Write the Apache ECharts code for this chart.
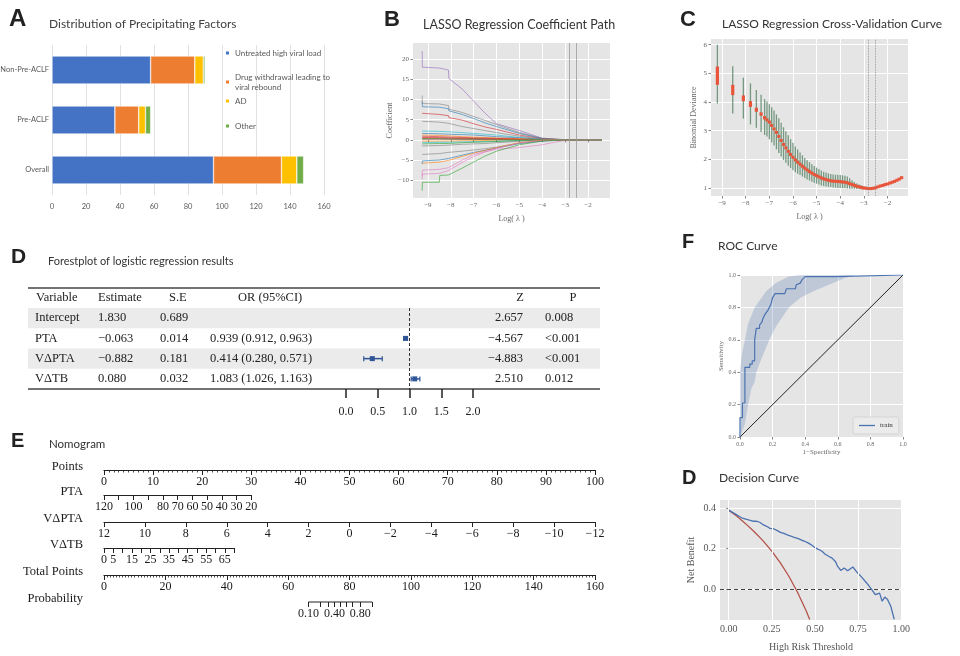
<!DOCTYPE html>
<html>
<head>
<meta charset="utf-8">
<title>Precipitating factors and logistic model</title>
<script src="https://cdn.jsdelivr.net/npm/echarts@6.0.0/dist/echarts.min.js"></script>
<style>
  html, body { margin: 0; padding: 0; background: #fff; }
  #chart { width: 960px; height: 656px; }
</style>
</head>
<body>
<div id="chart"></div>
<script>
// ---------- A: precipitating factors ----------
const factorGroups = ['Non-Pre-ACLF', 'Pre-ACLF', 'Overall'];
const factorNames = ['Untreated high viral load', 'Drug withdrawal leading to viral rebound', 'AD', 'Other'];
const untreatedViralLoad = [58, 37, 95];
const drugWithdrawal = [26, 14, 40];
const adCount = [5, 4, 9];
const otherCount = [1, 3, 4];
const factorTicks = [0, 20, 40, 60, 80, 100, 120, 140, 160];

// ---------- B: LASSO coefficient path ----------
const pathLogLambda = [-9.25, -9.24, -8.5, -8.48, -8.1, -8.08, -7.5, -7, -6.5, -6, -5, -4, -3, -1.4];
const coefPaths = [
  [22, 18, 17.8, 17.5, 17.3, 15.2, 12.6, 9.6, 6.6, 4.0, 2.3, 0.4, 0.03, 0],
  [11, 9.0, 8.9, 8.6, 8.5, 7.6, 6.8, 5.8, 4.8, 3.8, 1.8, 0.4, 0.03, 0],
  [9.5, 8.2, 8.1, 7.8, 7.7, 7.2, 6.3, 5.3, 4.2, 3.3, 1.6, 0.3, 0.02, 0],
  [6.6, 6.4, 6.3, 6.1, 6.0, 5.5, 4.9, 4.0, 3.2, 2.6, 1.2, 0.25, 0.02, 0],
  [4.6, 4.5, 4.4, 4.2, 4.1, 3.8, 3.3, 2.8, 2.3, 1.8, 0.9, 0.2, 0.01, 0],
  [2.2, 2.1, 2.1, 2.0, 2.0, 1.9, 1.8, 1.6, 1.4, 1.2, 0.6, 0.1, 0, 0],
  [1.6, 1.5, 1.5, 1.5, 1.4, 1.4, 1.3, 1.2, 1.0, 0.8, 0.5, 0.1, 0, 0],
  [1.2, 1.1, 1.1, 1.0, 1.0, 0.9, 0.8, 0.7, 0.6, 0.5, 0.3, 0.05, 0, 0],
  [0.9, 0.8, 0.8, 0.8, 0.7, 0.7, 0.6, 0.5, 0.45, 0.35, 0.2, 0.04, 0, 0],
  [0.6, 0.55, 0.55, 0.5, 0.5, 0.45, 0.4, 0.35, 0.3, 0.25, 0.12, 0.02, 0, 0],
  [0.4, 0.4, 0.4, 0.38, 0.36, 0.34, 0.3, 0.26, 0.22, 0.18, 0.1, 0.02, 0, 0],
  [0.3, 0.3, 0.3, 0.3, 0.25, 0.25, 0.2, 0.2, 0.15, 0.1, 0.05, 0, 0, 0],
  [0.15, 0.15, 0.15, 0.15, 0.12, 0.12, 0.1, 0.1, 0.08, 0.06, 0.03, 0, 0, 0],
  [-0.3, -0.3, -0.3, -0.3, -0.3, -0.25, -0.2, -0.2, -0.15, -0.1, -0.05, 0, 0, 0],
  [-0.7, -0.7, -0.6, -0.6, -0.6, -0.55, -0.5, -0.45, -0.4, -0.3, -0.15, 0, 0, 0],
  [-1.0, -1.0, -0.9, -0.9, -0.9, -0.8, -0.7, -0.6, -0.5, -0.4, -0.2, -0.02, 0, 0],
  [-1.5, -1.4, -1.4, -1.3, -1.3, -1.2, -1.1, -1.0, -0.9, -0.7, -0.35, -0.05, 0, 0],
  [-3.6, -3.5, -3.4, -3.2, -3.1, -3.0, -2.8, -2.5, -2.2, -1.8, -0.8, -0.2, 0, 0],
  [-6.0, -5.2, -5.0, -4.8, -4.6, -4.5, -3.8, -3.1, -2.6, -2.0, -0.9, -0.3, 0, 0],
  [-5.8, -5.7, -5.5, -5.4, -5.1, -5.0, -4.1, -3.3, -2.6, -1.9, -0.7, -0.1, 0, 0],
  [-9.0, -7.5, -7.3, -7.2, -6.9, -6.6, -5.0, -3.6, -2.9, -2.3, -1.9, -1.2, -0.1, 0],
  [-9.8, -8.5, -8.3, -8.2, -7.6, -7.2, -5.6, -4.1, -3.0, -2.1, -0.8, -0.1, 0, 0],
  [-12.6, -10.5, -10.5, -8.8, -8.7, -8.5, -7.0, -5.5, -4.0, -2.8, -1.2, -0.3, 0, 0]
];
const lambdaChoices = [-2.8, -2.5];
const logLambdaTicks = [-9, -8, -7, -6, -5, -4, -3, -2];
const coefTicks = [-10, -5, 0, 5, 10, 15, 20];

// ---------- C: cross-validation curve ----------
const cvLogLambda = [-9.2, -8.55, -8.1, -7.8, -7.55, -7.35, -7.2, -7.1, -7.0, -6.9, -6.8, -6.7, -6.6, -6.5, -6.4, -6.3,
  -6.2, -6.1, -6.0, -5.9, -5.8, -5.7, -5.6, -5.5, -5.4, -5.3, -5.2, -5.1, -5.0, -4.9, -4.8, -4.7, -4.6, -4.5, -4.4,
  -4.3, -4.2, -4.1, -4.0, -3.9, -3.8, -3.7, -3.6, -3.5, -3.4, -3.3, -3.2, -3.1, -3.0, -2.9, -2.8, -2.7, -2.6, -2.5,
  -2.4, -2.3, -2.2, -2.1, -2.0, -1.9, -1.8, -1.7, -1.6, -1.5, -1.4];
const cvMean = [4.92, 4.42, 4.13, 3.93, 3.73, 3.58, 3.45, 3.38, 3.3, 3.18, 3.06, 2.94, 2.8, 2.66, 2.52, 2.4,
  2.28, 2.17, 2.07, 1.98, 1.9, 1.83, 1.76, 1.69, 1.63, 1.57, 1.52, 1.47, 1.43, 1.39, 1.35, 1.32, 1.29, 1.27, 1.25,
  1.24, 1.23, 1.23, 1.22, 1.21, 1.2, 1.18, 1.15, 1.12, 1.09, 1.06, 1.04, 1.02, 1.0, 0.99, 0.98, 0.98, 0.99, 1.01,
  1.04, 1.07, 1.09, 1.12, 1.14, 1.17, 1.2, 1.23, 1.27, 1.31, 1.36];
const cvLower = [3.95, 3.6, 3.42, 3.22, 3.1, 2.95, 2.85, 2.8, 2.7, 2.6, 2.48, 2.35, 2.22, 2.1, 1.98, 1.88,
  1.78, 1.7, 1.62, 1.55, 1.5, 1.45, 1.4, 1.35, 1.3, 1.26, 1.22, 1.18, 1.15, 1.12, 1.09, 1.07, 1.05, 1.04, 1.03,
  1.02, 1.01, 1.0, 1.0, 0.99, 0.99, 0.98, 0.97, 0.97, 0.97, 0.96, 0.96, 0.95, 0.95, 0.95, 0.95, 0.96, 0.98, 1.0,
  1.03, 1.06, 1.08, 1.11, 1.13, 1.16, 1.19, 1.22, 1.26, 1.3, 1.35];
const cvUpper = [6.0, 5.25, 4.85, 4.65, 4.42, 4.25, 4.1, 4.02, 3.92, 3.82, 3.7, 3.57, 3.43, 3.28, 3.12, 2.98,
  2.84, 2.7, 2.58, 2.45, 2.34, 2.24, 2.14, 2.05, 1.97, 1.9, 1.83, 1.77, 1.71, 1.66, 1.61, 1.57, 1.54, 1.51, 1.49,
  1.47, 1.46, 1.46, 1.45, 1.44, 1.43, 1.4, 1.34, 1.27, 1.21, 1.16, 1.12, 1.09, 1.06, 1.04, 1.02, 1.0, 1.01, 1.03,
  1.05, 1.08, 1.1, 1.13, 1.15, 1.18, 1.21, 1.24, 1.28, 1.32, 1.37];
const cvMarkHalf = [0.32, 0.18, 0.1, 0.1, 0.07, 0.06, 0.06];
const devianceTicks = [1, 2, 3, 4, 5, 6];

// ---------- D: forest plot ----------
const forestVars = ['Intercept', 'PTA', 'VΔPTA', 'VΔTB'];
const forestEstimate = [1.830, -0.063, -0.882, 0.080];
const forestSE = [0.689, 0.014, 0.181, 0.032];
const forestOR = [null, 0.939, 0.414, 1.083];
const forestLow = [null, 0.912, 0.280, 1.026];
const forestHigh = [null, 0.963, 0.571, 1.163];
const forestZ = [2.657, -4.567, -4.883, 2.510];
const forestP = ['0.008', '<0.001', '<0.001', '0.012'];
const forestTicks = [0, 0.5, 1, 1.5, 2];

// ---------- E: nomogram ----------
const nomoRows = ['Points', 'PTA', 'VΔPTA', 'VΔTB', 'Total Points', 'Probability'];
const ptaTicks = [120, 110, 100, 90, 80, 70, 60, 50, 40, 30, 20];
const ptaLabels = [120, 100, 80, 70, 60, 50, 40, 30, 20];
const ptaMaxPoints = 30;
const vptaTicks = [12, 10, 8, 6, 4, 2, 0, -2, -4, -6, -8, -10, -12];
const tbTicks = [0, 5, 10, 15, 20, 25, 30, 35, 40, 45, 50, 55, 60, 65, 70];
const tbLabels = [0, 5, 15, 25, 35, 45, 55, 65];
const tbMaxPoints = 26.5;
const probValues = [0.1, 0.2, 0.3, 0.4, 0.5, 0.6, 0.7, 0.8, 0.9];
const probTotalPoints = [66.6, 70.5, 73.0, 75.1, 77.0, 78.9, 81.0, 83.5, 87.4];
const probLabelValues = [0.1, 0.4, 0.8];

// ---------- F: ROC ----------
const rocFpr = [0, 0, 0.015, 0.015, 0.03, 0.03, 0.06, 0.06, 0.075, 0.075, 0.09, 0.09, 0.1, 0.1, 0.12, 0.12, 0.135,
  0.14, 0.155, 0.17, 0.19, 0.2, 0.215, 0.275, 0.285, 0.34, 0.345, 0.37, 0.38, 0.4, 0.585, 0.585, 1.0];
const rocTpr = [0, 0.12, 0.12, 0.21, 0.21, 0.43, 0.43, 0.45, 0.45, 0.47, 0.47, 0.6, 0.6, 0.67, 0.67, 0.69, 0.71,
  0.73, 0.76, 0.78, 0.82, 0.86, 0.885, 0.885, 0.915, 0.915, 0.94, 0.95, 0.97, 0.99, 0.99, 1.0, 1.0];
const rocUpperBand = [[0, 0], [0, 0.4], [0.01, 0.5], [0.03, 0.6], [0.05, 0.7], [0.09, 0.8], [0.16, 0.9],
  [0.22, 0.95], [0.3, 0.99], [0.37, 1.0]];
const rocLowerBand = [[0, 0], [0.03, 0.08], [0.05, 0.2], [0.07, 0.3], [0.09, 0.34], [0.1, 0.4], [0.13, 0.48],
  [0.18, 0.6], [0.22, 0.68], [0.3, 0.8], [0.37, 0.86], [0.45, 0.9], [0.57, 0.95], [0.64, 0.98], [0.71, 1.0]];
const rocTicks = [0, 0.2, 0.4, 0.6, 0.8, 1.0];

// ---------- D: decision curve ----------
const dcaThreshold = [0, 0.02, 0.04, 0.06, 0.08, 0.1, 0.12, 0.14, 0.16, 0.18, 0.2, 0.22, 0.24, 0.26, 0.28, 0.3,
  0.32, 0.34, 0.36, 0.38, 0.4, 0.42, 0.44, 0.46, 0.48, 0.5, 0.52, 0.54, 0.56, 0.58, 0.6, 0.62, 0.63, 0.65, 0.67,
  0.69, 0.7, 0.72, 0.74, 0.77, 0.8, 0.83, 0.85, 0.86, 0.875, 0.89, 0.905, 0.92, 0.94, 0.96];
const dcaModel = [0.39, 0.38, 0.37, 0.36, 0.35, 0.345, 0.34, 0.335, 0.336, 0.33, 0.318, 0.31, 0.30, 0.298, 0.29,
  0.28, 0.275, 0.268, 0.262, 0.255, 0.25, 0.243, 0.236, 0.228, 0.218, 0.205, 0.196, 0.188, 0.172, 0.162, 0.153,
  0.135, 0.115, 0.092, 0.104, 0.09, 0.082, 0.109, 0.087, 0.06, 0.03, -0.003, -0.028, -0.036, -0.02, -0.06, -0.04,
  -0.05, -0.085, -0.15];
const dcaAllThreshold = [0, 0.05, 0.1, 0.15, 0.2, 0.25, 0.3, 0.35, 0.4, 0.45, 0.47];
const dcaTreatAll = [0.39, 0.358, 0.322, 0.282, 0.238, 0.187, 0.129, 0.062, -0.017, -0.109, -0.151];
const dcaXTicks = [0, 0.25, 0.5, 0.75, 1.0];
const dcaYTicks = [0, 0.2, 0.4];

// ---------- styling ----------
const serif = 'Liberation Serif';
const sans = 'Lato';
const ggBg = '#e5e5e5';
const factorColors = ['#4472c4', '#ed7d31', '#ffc000', '#70ad47'];
const pathColors = ['#9467bd', '#7f7f7f', '#1f77b4', '#d62728', '#7f7f7f', '#17becf', '#1f77b4', '#ff7f0e',
  '#d62728', '#d62728', '#d62728', '#2ca02c', '#8c564b', '#ff7f0e', '#17becf', '#2ca02c', '#7f7f7f', '#7f7f7f',
  '#1f77b4', '#ff7f0e', '#e377c2', '#e377c2', '#2ca02c'];
const uMinus = v => String(v).replace('-', '−');

const forestTop = 308, forestHeight = 81, forestLeft = 28, forestRight = 600;
const forestRowH = forestHeight / forestVars.length;
const nomoLeft = 104, nomoPxPerPoint = 4.91, nomoTotalMax = 160;
const nomoRowY = [470, 495, 522, 548, 575, 602];

function gridBox(left, top, width, height, gg) {
  const g = { left, top, width, height, containLabel: false, outerBoundsMode: 'none' };
  if (gg) { g.show = true; g.backgroundColor = ggBg; g.borderWidth = 0; }
  return g;
}

const grids = [
  gridBox(52, 45, 272, 150),           // 0 A
  gridBox(413, 43, 197, 155, true),    // 1 B
  gridBox(711, 39, 197, 157, true),    // 2 C
  gridBox(346, forestTop, 127, forestHeight) // 3 forest
];
const nomoWidths = [100 * nomoPxPerPoint, ptaMaxPoints * nomoPxPerPoint, 100 * nomoPxPerPoint,
  tbMaxPoints * nomoPxPerPoint, 100 * nomoPxPerPoint, 100 * nomoPxPerPoint];
nomoRowY.forEach((y, i) => grids.push(gridBox(nomoLeft, y - 1, nomoWidths[i], 1))); // 4..9
grids.push(gridBox(740, 275, 163, 162, true));   // 10 ROC
grids.push(gridBox(720, 500, 182, 120, true));   // 11 DCA

function ggAxis(gridIndex, min, max, ticks, fontSize, fmt, extra) {
  return Object.assign({
    type: 'value', gridIndex, min, max,
    axisLine: { show: false },
    axisTick: { show: true, length: 2.5, lineStyle: { color: '#666', width: 0.8 }, customValues: ticks },
    axisLabel: { customValues: ticks, fontSize, color: '#666', fontFamily: serif, margin: 4, formatter: fmt, hideOverlap: false },
    splitLine: { show: true, lineStyle: { color: '#ffffff', width: 1 } },
    nameLocation: 'middle',
    nameTextStyle: { fontFamily: serif, color: '#666' }
  }, extra || {});
}

function nomoAxis(gridIndex, extra, tickCustom, labelCustom, fmt) {
  const ax = {
    type: 'value', gridIndex, position: 'bottom',
    axisLine: { show: true, lineStyle: { color: '#222', width: 1.2 } },
    axisTick: { show: true, length: 5, lineStyle: { color: '#222', width: 1 } },
    axisLabel: { show: true, fontFamily: serif, fontSize: 12, color: '#1a1a1a', margin: 6, hideOverlap: false,
      showMinLabel: true, showMaxLabel: true },
    splitLine: { show: false }
  };
  if (tickCustom) ax.axisTick.customValues = tickCustom;
  if (labelCustom) ax.axisLabel.customValues = labelCustom;
  if (fmt) ax.axisLabel.formatter = fmt;
  return Object.assign(ax, extra);
}

const minorStyle = n => ({ show: true, splitNumber: n, length: 2.5, lineStyle: { color: '#222', width: 0.8 } });

const xAxes = [
  { type: 'value', gridIndex: 0, min: 0, max: 160, interval: 20,
    axisLine: { show: false }, axisTick: { show: false },
    axisLabel: { fontSize: 7.5, color: '#595959', fontFamily: sans, margin: 8 },
    splitLine: { show: true, lineStyle: { color: '#d9d9d9', width: 0.8 } } },
  ggAxis(1, -9.65, -1.04, logLambdaTicks, 7, uMinus, { splitNumber: 8, name: 'Log( λ )', nameGap: 17, nameTextStyle: { fontFamily: serif, color: '#666', fontSize: 8 } }),
  ggAxis(2, -9.47, -1.13, logLambdaTicks, 7, uMinus, { splitNumber: 8, name: 'Log( λ )', nameGap: 17, nameTextStyle: { fontFamily: serif, color: '#666', fontSize: 8 } }),
  { type: 'value', gridIndex: 3, min: 0, max: 2, interval: 0.5,
    axisLine: { show: false },
    axisTick: { show: true, length: 9, lineStyle: { color: '#222', width: 1.5 } },
    axisLabel: { fontSize: 12, color: '#222', fontFamily: serif, margin: 17, formatter: v => v.toFixed(1) },
    splitLine: { show: false } },
  nomoAxis(4, { min: 0, max: 100, interval: 10, minorTick: minorStyle(10) }),
  nomoAxis(5, { min: 20, max: 120, inverse: true }, ptaTicks, ptaLabels),
  nomoAxis(6, { min: -12, max: 12, interval: 2, inverse: true }, vptaTicks, null, uMinus),
  nomoAxis(7, { min: 0, max: 70 }, tbTicks, tbLabels),
  nomoAxis(8, { min: 0, max: nomoTotalMax, interval: 20, minorTick: minorStyle(20) }),
  nomoAxis(9, { min: 0, max: nomoTotalMax, axisLine: { show: false } }, probTotalPoints,
    probLabelValues.map(p => probTotalPoints[probValues.indexOf(p)]),
    v => probValues[probTotalPoints.indexOf(v)].toFixed(2)),
  ggAxis(10, 0, 1, rocTicks, 6, v => v.toFixed(1), { interval: 0.2, name: '1−Specificity', nameGap: 12, nameTextStyle: { fontFamily: serif, color: '#666', fontSize: 7 } }),
  ggAxis(11, -0.05, 1.005, dcaXTicks, 10, v => v.toFixed(2), { splitLine: { show: false }, name: 'High Risk Threshold', nameGap: 22, nameTextStyle: { fontFamily: serif, color: '#555', fontSize: 10 } })
];
xAxes[11].axisLabel.color = '#555';

const hiddenY = gi => ({ type: 'value', gridIndex: gi, min: 0, max: 1, show: false });
const yAxes = [
  { type: 'category', gridIndex: 0, data: factorGroups, inverse: true,
    axisLine: { show: false }, axisTick: { show: false },
    axisLabel: { fontSize: 7.5, color: '#595959', fontFamily: sans, margin: 3 } },
  ggAxis(1, -14.4, 24, coefTicks, 7, uMinus, { splitNumber: 8, name: 'Coefficient', nameGap: 19, nameTextStyle: { fontFamily: serif, color: '#666', fontSize: 8 } }),
  ggAxis(2, 0.72, 6.2, devianceTicks, 7, uMinus, { splitNumber: 5, name: 'Binomial Deviance', nameGap: 13, nameTextStyle: { fontFamily: serif, color: '#666', fontSize: 8 } }),
  { type: 'category', gridIndex: 3, data: forestVars, inverse: true, show: false },
  hiddenY(4), hiddenY(5), hiddenY(6), hiddenY(7), hiddenY(8), hiddenY(9),
  ggAxis(10, 0, 1, rocTicks, 6, v => v.toFixed(1), { interval: 0.2, name: 'Sensitivity', nameGap: 14, nameTextStyle: { fontFamily: serif, color: '#666', fontSize: 7 } }),
  ggAxis(11, -0.153, 0.44, dcaYTicks, 10, v => v.toFixed(1), { splitNumber: 3, name: 'Net Benefit', nameGap: 24, nameTextStyle: { fontFamily: serif, color: '#555', fontSize: 10 } })
];
yAxes[11].axisLabel.color = '#555';

const series = [];

// A bars
[untreatedViralLoad, drugWithdrawal, adCount, otherCount].forEach((vals, i) => {
  series.push({
    type: 'bar', name: factorNames[i], xAxisIndex: 0, yAxisIndex: 0, stack: 'factors', data: vals,
    barWidth: 28, silent: true,
    itemStyle: { color: factorColors[i], borderColor: '#ffffff', borderWidth: 0.5 }
  });
});

// B coefficient paths
coefPaths.forEach((vals, i) => {
  const s = {
    type: 'line', xAxisIndex: 1, yAxisIndex: 1, symbol: 'none', silent: true,
    data: vals.map((v, j) => [pathLogLambda[j], v]),
    lineStyle: { width: 1, color: pathColors[i % pathColors.length], opacity: 0.6 }
  };
  if (i === 0) {
    s.markLine = { silent: true, symbol: 'none', label: { show: false },
      lineStyle: { color: '#9a9a9a', width: 0.8, type: 'solid' },
      data: lambdaChoices.map(x => ({ xAxis: x })) };
  }
  series.push(s);
});

// C cross-validation error bars
series.push({
  type: 'custom', xAxisIndex: 2, yAxisIndex: 2, silent: true,
  data: cvLogLambda.map((x, i) => [x, cvMean[i], cvLower[i], cvUpper[i], cvMarkHalf[i] || 0]),
  renderItem: (params, api) => {
    const x = api.value(0), m = api.value(1), half = api.value(4);
    const pLo = api.coord([x, api.value(2)]), pHi = api.coord([x, api.value(3)]);
    const pA = api.coord([x, m + half]), pB = api.coord([x, m - half]);
    const h = Math.max(pB[1] - pA[1], 3);
    const cy = (pA[1] + pB[1]) / 2;
    return { type: 'group', children: [
      { type: 'line', shape: { x1: pLo[0], y1: pLo[1], x2: pHi[0], y2: pHi[1] },
        style: { stroke: '#4f7d5e', lineWidth: 1.3, opacity: 0.75 } },
      { type: 'rect', shape: { x: pA[0] - 1.6, y: cy - h / 2, width: 3.2, height: h },
        style: { fill: '#e8553a' } }
    ] };
  },
  markLine: { silent: true, symbol: 'none', label: { show: false },
    lineStyle: { color: '#8a8a8a', width: 0.8, type: 'dotted' },
    data: lambdaChoices.map(x => ({ xAxis: x })) }
});

// D forest markers
series.push({
  type: 'custom', xAxisIndex: 3, yAxisIndex: 3, silent: true,
  data: forestVars.map((v, i) => [forestOR[i], i, forestLow[i], forestHigh[i]]).filter(d => d[0] !== null),
  renderItem: (params, api) => {
    const row = api.value(1);
    const c = api.coord([api.value(0), row]);
    const lo = api.coord([api.value(2), row]), hi = api.coord([api.value(3), row]);
    const col = '#2f5597';
    return { type: 'group', children: [
      { type: 'line', shape: { x1: lo[0], y1: c[1], x2: hi[0], y2: c[1] }, style: { stroke: col, lineWidth: 1.5 } },
      { type: 'line', shape: { x1: lo[0], y1: c[1] - 2.5, x2: lo[0], y2: c[1] + 2.5 }, style: { stroke: col, lineWidth: 1.2 } },
      { type: 'line', shape: { x1: hi[0], y1: c[1] - 2.5, x2: hi[0], y2: c[1] + 2.5 }, style: { stroke: col, lineWidth: 1.2 } },
      { type: 'rect', shape: { x: c[0] - 2.5, y: c[1] - 2.5, width: 5, height: 5 }, style: { fill: col } }
    ] };
  },
  markLine: { silent: true, symbol: 'none', label: { show: false },
    lineStyle: { color: '#333', width: 1, type: [3, 2] }, data: [{ xAxis: 1 }] }
});

// E probability scale line (the axis line of the probability row)
series.push({
  type: 'line', xAxisIndex: 9, yAxisIndex: 9, symbol: 'none', silent: true, clip: false,
  data: [[probTotalPoints[0], 0], [probTotalPoints[probTotalPoints.length - 1], 0]],
  lineStyle: { color: '#222', width: 1.2 }
});

// F ROC band, diagonal and curve
series.push({
  type: 'custom', xAxisIndex: 10, yAxisIndex: 10, silent: true, z: 1,
  data: rocUpperBand,
  renderItem: (params, api) => {
    if (params.dataIndex !== 0) return null;
    const pts = rocUpperBand.concat(rocLowerBand.slice().reverse()).map(p => api.coord(p));
    return { type: 'polygon', shape: { points: pts }, style: { fill: 'rgba(76,114,176,0.25)' } };
  }
});
series.push({
  type: 'line', xAxisIndex: 10, yAxisIndex: 10, symbol: 'none', silent: true,
  data: [[0, 0], [1, 1]], lineStyle: { color: '#222', width: 1 }
});
series.push({
  type: 'line', name: 'train', xAxisIndex: 10, yAxisIndex: 10, symbol: 'none', silent: true,
  data: rocFpr.map((x, i) => [x, rocTpr[i]]), lineStyle: { color: '#4c72b0', width: 1.2 },
  itemStyle: { color: '#4c72b0' }
});

// Decision curve
series.push({
  type: 'line', xAxisIndex: 11, yAxisIndex: 11, symbol: 'none', silent: true, z: 1, data: [],
  markLine: { silent: true, symbol: 'none', label: { show: false },
    lineStyle: { color: '#ffffff', width: 1, type: 'solid' }, data: dcaXTicks.map(x => ({ xAxis: x })) }
});
series.push({
  type: 'line', xAxisIndex: 11, yAxisIndex: 11, symbol: 'none', silent: true,
  data: dcaAllThreshold.map((x, i) => [x, dcaTreatAll[i]]), lineStyle: { color: '#b5524a', width: 1.3 },
  markLine: { silent: true, symbol: 'none', label: { show: false },
    lineStyle: { color: '#444', width: 1.2, type: [4, 3] }, data: [{ yAxis: 0 }] }
});
series.push({
  type: 'line', xAxisIndex: 11, yAxisIndex: 11, symbol: 'none', silent: true,
  data: dcaThreshold.map((x, i) => [x, dcaModel[i]]), lineStyle: { color: '#4c72b0', width: 1.3 }
});

// legends
const legendTops = [48, 72, 96, 121];
const legends = factorNames.map((name, i) => ({
  data: [name], left: 224, top: legendTops[i], orient: 'vertical', padding: 0,
  itemWidth: 5, itemHeight: 5, itemGap: 0, icon: 'rect', selectedMode: false,
  textStyle: { fontSize: 8, color: '#595959', fontFamily: sans, lineHeight: 10 },
  formatter: n => n.replace('leading to ', 'leading to\n')
}));
legends.push({
  data: ['train'], left: 853, top: 417, padding: [5, 6], selectedMode: false,
  backgroundColor: '#ebebeb', borderColor: '#c8c8c8', borderWidth: 0.6, borderRadius: 2,
  icon: 'rect', itemWidth: 16, itemHeight: 1.3, itemGap: 0,
  textStyle: { fontSize: 7, color: '#333', fontFamily: serif }
});

// text, table and rules
const graphics = [];
function addText(text, x, y, font, align, fill) {
  graphics.push({ type: 'text', x, y, silent: true,
    style: { text, font, fill: fill || '#222', textAlign: align || 'left', align: align || 'left',
      textVerticalAlign: 'middle', verticalAlign: 'middle' } });
}
const letterFont = 'bold 24px "Liberation Sans"';
addText('A', 9, 19, letterFont);
addText('Distribution of Precipitating Factors', 49, 24, '12px Lato', 'left', '#404040');
addText('B', 384, 20, 'bold 22px "Liberation Sans"');
addText('LASSO Regression Coefficient Path', 423, 25, '12.5px Lato', 'left', '#333');
addText('C', 680, 20, 'bold 22px "Liberation Sans"');
addText('LASSO Regression Cross-Validation Curve', 722, 24, '12px Lato', 'left', '#333');
addText('D', 11, 257, 'bold 21px "Liberation Sans"');
addText('Forestplot of logistic regression results', 48, 261, '11px Lato', 'left', '#333');
addText('E', 11, 441, 'bold 20px "Liberation Sans"');
addText('Nomogram', 49, 444, '11.5px Lato', 'left', '#333');
addText('F', 682, 242, 'bold 20px "Liberation Sans"');
addText('ROC Curve', 718, 246, '12px Lato', 'left', '#333');
addText('D', 682, 478, 'bold 20px "Liberation Sans"');
addText('Decision Curve', 719, 478, '12px Lato', 'left', '#333');

// forest table
forestVars.forEach((v, i) => {
  if (i % 2 === 0) {
    graphics.push({ type: 'rect', silent: true, z: -1,
      shape: { x: forestLeft, y: forestTop + i * forestRowH, width: forestRight - forestLeft, height: forestRowH },
      style: { fill: '#ebebeb' } });
  }
});
graphics.push({ type: 'line', silent: true, shape: { x1: forestLeft, y1: 288, x2: forestRight, y2: 288 },
  style: { stroke: '#444', lineWidth: 1.6 } });
graphics.push({ type: 'line', silent: true,
  shape: { x1: forestLeft, y1: forestTop + forestHeight, x2: forestRight, y2: forestTop + forestHeight },
  style: { stroke: '#444', lineWidth: 1.3 } });
const tFont = '12.5px "Liberation Serif"';
const headerY = 298;
addText('Variable', 36, headerY, tFont);
addText('Estimate', 98, headerY, tFont);
addText('S.E', 169, headerY, tFont);
addText('OR (95%CI)', 238, headerY, tFont);
addText('Z', 520, headerY, tFont, 'center');
addText('P', 573, headerY, tFont, 'center');
forestVars.forEach((v, i) => {
  const y = forestTop + (i + 0.5) * forestRowH;
  addText(v, 35, y, tFont);
  addText(uMinus(forestEstimate[i].toFixed(3)), 98, y, tFont);
  addText(forestSE[i].toFixed(3), 160, y, tFont);
  if (forestOR[i] !== null) {
    addText(forestOR[i].toFixed(3) + ' (' + forestLow[i].toFixed(3) + ', ' + forestHigh[i].toFixed(3) + ')', 210, y, tFont);
  }
  addText(uMinus(forestZ[i].toFixed(3)), 523, y, tFont, 'right');
  addText(forestP[i], 545, y, tFont);
});

// nomogram row names
nomoRows.forEach((name, i) => addText(name, 83, nomoRowY[i] - 3, '12.5px "Liberation Serif"', 'right', '#1a1a1a'));

const option = {
  animation: false,
  backgroundColor: '#ffffff',
  textStyle: { fontFamily: sans },
  grid: grids,
  legend: legends,
  xAxis: xAxes,
  yAxis: yAxes,
  series: series,
  graphic: { elements: graphics }
};

const chart = echarts.init(document.getElementById('chart'), null, { renderer: 'canvas', width: 960, height: 656 });
chart.setOption(option);
</script>
</body>
</html>
